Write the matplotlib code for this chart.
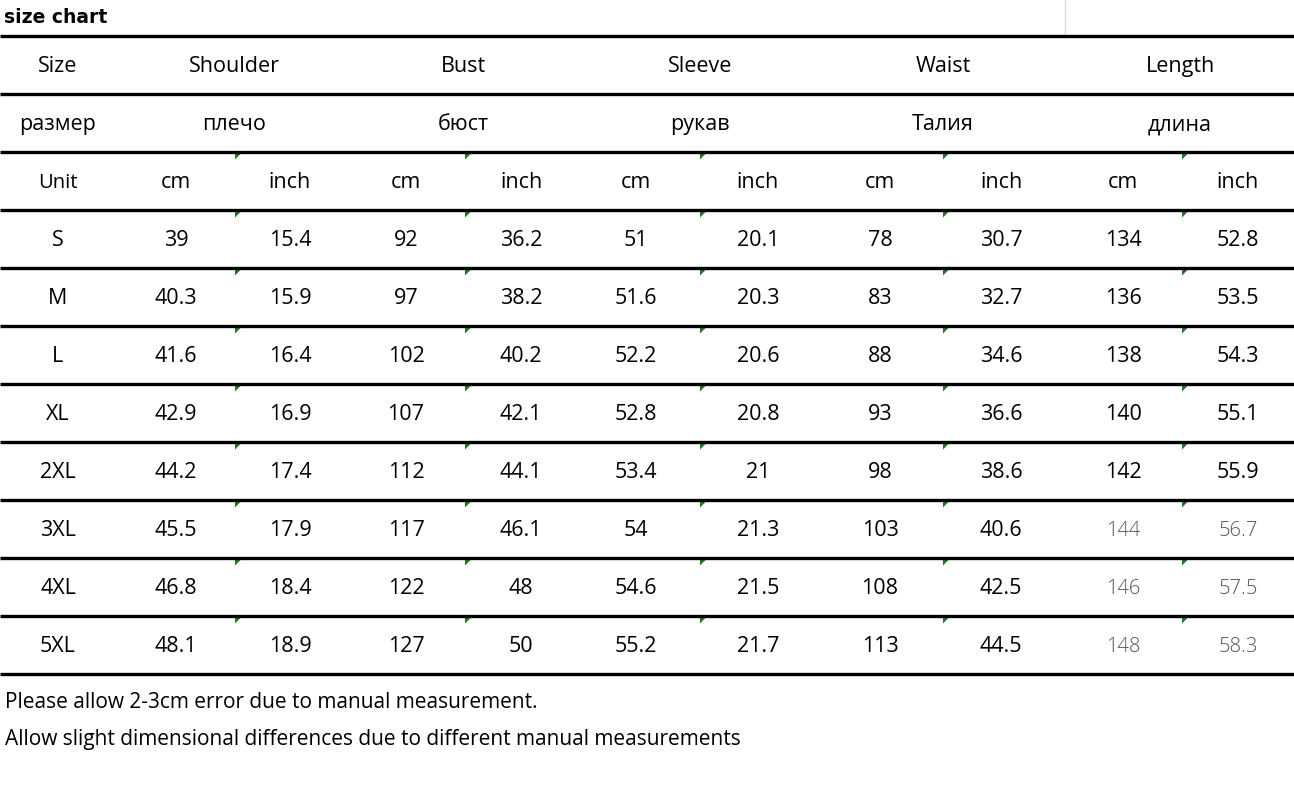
import matplotlib
matplotlib.use("Agg")
import matplotlib.pyplot as plt
from matplotlib.patches import Polygon

title = "size chart"
groups = ["Shoulder", "Bust", "Sleeve", "Waist", "Length"]
groups_ru = ["плечо", "бюст", "рукав", "Талия", "длина"]
sizes = ["S", "M", "L", "XL", "2XL", "3XL", "4XL", "5XL"]
shoulder_cm = ["39", "40.3", "41.6", "42.9", "44.2", "45.5", "46.8", "48.1"]
shoulder_in = ["15.4", "15.9", "16.4", "16.9", "17.4", "17.9", "18.4", "18.9"]
bust_cm = ["92", "97", "102", "107", "112", "117", "122", "127"]
bust_in = ["36.2", "38.2", "40.2", "42.1", "44.1", "46.1", "48", "50"]
sleeve_cm = ["51", "51.6", "52.2", "52.8", "53.4", "54", "54.6", "55.2"]
sleeve_in = ["20.1", "20.3", "20.6", "20.8", "21", "21.3", "21.5", "21.7"]
waist_cm = ["78", "83", "88", "93", "98", "103", "108", "113"]
waist_in = ["30.7", "32.7", "34.6", "36.6", "38.6", "40.6", "42.5", "44.5"]
length_cm = ["134", "136", "138", "140", "142", "144", "146", "148"]
length_in = ["52.8", "53.5", "54.3", "55.1", "55.9", "56.7", "57.5", "58.3"]
notes = ["Please allow 2-3cm error due to manual measurement.",
         "Allow slight dimensional differences due to different manual measurements"]

fig = plt.figure(figsize=(12.94, 7.89), dpi=100)
ax = fig.add_axes([0, 0, 1, 1])
ax.set_xlim(0, 1294); ax.set_ylim(789, 0); ax.axis("off")
FONT = "Open Sans"
fs = 15.5

ax.text(4, 17, title, fontsize=13.5, fontweight="bold", family="DejaVu Sans", va="center", ha="left")
ax.plot([1065, 1065], [0, 34], color="#dddddd", lw=1)

row_top = 36; rh = 58.0
for i in range(12):
    y = row_top + i * rh
    ax.plot([0, 1294], [y, y], color="black", lw=2.4, solid_capstyle="butt")

col_x = [58, 176, 290, 406, 521, 636, 758, 880, 1001, 1123, 1238]
grp_x = [234, 463, 700, 943, 1180]
tri_x = [235, 465, 700, 943, 1182]

def cy(r): return row_top + (r + 0.5) * rh + 1.5

ax.text(col_x[0], cy(0), "Size", fontsize=fs, family=FONT, ha="center", va="center")
ax.text(col_x[0], cy(1), "размер", fontsize=fs, family=FONT, ha="center", va="center")
for g, gr, x in zip(groups, groups_ru, grp_x):
    ax.text(x, cy(0), g, fontsize=fs, family=FONT, ha="center", va="center")
    ax.text(x, cy(1), gr, fontsize=fs, family=FONT, ha="center", va="center")
ax.text(col_x[0], cy(2), "Unit", fontsize=fs - 1, family=FONT, ha="center", va="center")
for k in range(5):
    ax.text(col_x[1 + 2 * k], cy(2), "cm", fontsize=fs, family=FONT, ha="center", va="center")
    ax.text(col_x[2 + 2 * k], cy(2), "inch", fontsize=fs, family=FONT, ha="center", va="center")

cols = [shoulder_cm, shoulder_in, bust_cm, bust_in, sleeve_cm, sleeve_in,
        waist_cm, waist_in, length_cm, length_in]
for r, s in enumerate(sizes):
    y = cy(3 + r)
    ax.text(col_x[0], y, s, fontsize=fs, family=FONT, ha="center", va="center")
    for c, vals in enumerate(cols):
        gray = c >= 8 and r >= 5
        ax.text(col_x[c + 1], y, vals[r], fontsize=fs - (1 if gray else 0), family=FONT,
                ha="center", va="center", color="#555555" if gray else "black",
                fontweight="light" if gray else "normal")

for i in range(2, 11):
    y = row_top + i * rh + 1.5
    for x in tri_x:
        ax.add_patch(Polygon([[x, y], [x + 6, y], [x, y + 6]], closed=True,
                             color="#1e7a1e", lw=0))

ax.text(5, 702, notes[0], fontsize=15, family=FONT, ha="left", va="center")
ax.text(5, 740, notes[1], fontsize=15, family=FONT, ha="left", va="center")

fig.savefig("out.png", dpi=100)
